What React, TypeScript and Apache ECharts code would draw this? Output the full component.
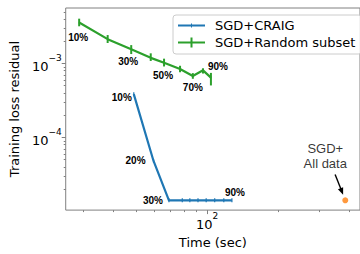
import React, { useEffect, useRef } from "react";
import * as echarts from "echarts";

// ---- data ----
const craigTime = [48.9, 59.3, 68.9, 78.5, 84.5, 91.5, 99.1, 107.7, 117.7, 127.4];
const craigLoss = [3.84e-4, 4.8e-5, 1.41e-5, 1.41e-5, 1.41e-5, 1.41e-5, 1.41e-5, 1.41e-5, 1.41e-5, 1.41e-5];
const craigLabels = ["10%", "20%", "30%", "", "", "", "", "", "", "90%"];

const randomTime = [28.7, 37.9, 47.7, 57.7, 65.7, 76.8, 87.0, 96.1, 103.8];
const randomLoss = [3.58e-3, 2.13e-3, 1.55e-3, 1.19e-3, 1.02e-3, 8.4e-4, 6.76e-4, 8.07e-4, 6.43e-4];
const randomLow = [3.18e-3, 1.89e-3, 1.34e-3, 1.08e-3, 9.1e-4, 7.6e-4, 6.2e-4, 7.3e-4, 5.04e-4];
const randomHigh = [4.03e-3, 2.42e-3, 1.77e-3, 1.37e-3, 1.16e-3, 9.3e-4, 7.4e-4, 8.6e-4, 7.45e-4];
const randomLabels = ["10%", "", "30%", "", "50%", "", "70%", "", "90%"];

const allTime = [385];
const allLoss = [1.41e-5];
const allLabel = "SGD+\nAll data";
const arrowFrom = [348.7, 3.15e-5];
const arrowTo = [377, 1.68e-5];

const xMajorTicks = [100];
const xMinorTicks = [30, 40, 50, 60, 70, 80, 90, 200, 300, 400];
const yMajorTicks = [1e-4, 1e-3];
const yMinorTicks = [
  2e-5, 3e-5, 4e-5, 5e-5, 6e-5, 7e-5, 8e-5, 9e-5,
  2e-4, 3e-4, 4e-4, 5e-4, 6e-4, 7e-4, 8e-4, 9e-4,
  2e-3, 3e-3, 4e-3, 5e-3,
];
const xRange = [25.17, 444.5];
const yRange = [1.039e-5, 5.62e-3];

const xTitle = "Time (sec)";
const yTitle = "Training loss residual";
const seriesNames = ["SGD+CRAIG", "SGD+Random subset"];

// ---- layout constants ----
const craigLabelOffsets = [[-12, 3], [-18, 0], [-16, 0.5], [0, 0], [0, 0], [0, 0], [0, 0], [0, 0], [0, 0], [3, -8]];
const randomLabelOffsets = [[-1, 15], [0, 0], [-3, 12.5], [0, 0], [-1, 13], [0, 0], [0, 11.5], [0, 0], [7, -11]];

const BLUE = "#1f77b4";
const GREEN = "#2ca02c";
const ORANGE = "#ff7f0e";
const SPINE = "#808080";
const DEJAVU = "DejaVu Sans";
const ARIAL = "Liberation Sans";

const supFormatter = (v: number) => {
  const e = Math.round(Math.log10(v));
  const s = e < 0 ? "\u2212" + -e : String(e);
  return `{b|10}{s|${s}}`;
};
const richLabel = {
  b: { fontSize: 13, fontFamily: DEJAVU, color: "#000", lineHeight: 20, verticalAlign: "bottom" },
  s: { fontSize: 9, fontFamily: DEJAVU, color: "#000", lineHeight: 10, verticalAlign: "top" },
};

const pctLabel = (text: string, off: number[]) =>
  text
    ? {
        show: true,
        position: "inside",
        formatter: text,
        offset: off,
        fontFamily: ARIAL,
        fontWeight: "bold",
        fontSize: 10,
        color: "#000",
        align: "center",
        verticalAlign: "middle",
      }
    : { show: false };

export default function App() {
  const ref = useRef<HTMLDivElement>(null);
  useEffect(() => {
    if (!ref.current) return;
    const chart = echarts.init(ref.current, null, { renderer: "svg" });
    const baseX = {
      type: "log",
      min: xRange[0],
      max: xRange[1],
      position: "bottom",
      splitLine: { show: false },
      axisLine: { show: false },
    };
    const baseY = {
      type: "log",
      min: yRange[0],
      max: yRange[1],
      position: "left",
      splitLine: { show: false },
      axisLine: { show: false },
    };
    chart.setOption({
      animation: false,
      grid: {
        left: 62,
        top: 8,
        width: 308,
        height: 214,
        show: true,
        borderColor: SPINE,
        borderWidth: 1,
        backgroundColor: "transparent",
      },
      legend: {
        orient: "vertical",
        left: 173,
        top: 15,
        padding: [4, 6, 5, 5],
        itemWidth: 27,
        itemHeight: 10,
        itemGap: 4,
        borderColor: "#cccccc",
        borderWidth: 1,
        borderRadius: 3,
        backgroundColor: "rgba(255,255,255,0.8)",
        textStyle: { fontFamily: DEJAVU, fontSize: 13, color: "#000", padding: [0, 0, 0, 5] },
        data: [
          { name: seriesNames[0], icon: "path://M0,0h0.01v0.01h-0.01z M0,4.1h27v1.8h-27z M13,3h1v4h-1z M26.99,9.99h0.01v0.01h-0.01z" },
          { name: seriesNames[1], icon: "path://M0,4h27v2h-27z M12.5,0h2v10h-2z" },
        ],
      },
      xAxis: [
        {
          ...baseX,
          name: xTitle,
          nameLocation: "middle",
          nameGap: 21,
          nameTextStyle: { fontFamily: DEJAVU, fontSize: 13, color: "#000", verticalAlign: "top" },
          axisTick: { show: true, length: 4, customValues: xMajorTicks, lineStyle: { color: SPINE, width: 1 } },
          axisLabel: { show: true, customValues: xMajorTicks, formatter: supFormatter, rich: richLabel, margin: 1 },
        },
        {
          ...baseX,
          axisTick: { show: true, length: 2, customValues: xMinorTicks, lineStyle: { color: SPINE, width: 1 } },
          axisLabel: { show: false },
        },
      ],
      yAxis: [
        {
          ...baseY,
          name: yTitle,
          nameLocation: "middle",
          nameGap: 40,
          nameTextStyle: { fontFamily: DEJAVU, fontSize: 13, color: "#000" },
          axisTick: { show: true, length: 4, customValues: yMajorTicks, lineStyle: { color: SPINE, width: 1 } },
          axisLabel: { show: true, customValues: yMajorTicks, formatter: supFormatter, rich: richLabel, margin: 4 },
        },
        {
          ...baseY,
          axisTick: { show: true, length: 2, customValues: yMinorTicks, lineStyle: { color: SPINE, width: 1 } },
          axisLabel: { show: false },
        },
      ],
      series: [
        {
          name: seriesNames[0],
          type: "line",
          xAxisIndex: 0,
          yAxisIndex: 0,
          color: BLUE,
          lineStyle: { color: BLUE, width: 2.2 },
          symbol: "rect",
          symbolSize: [1.2, 4],
          showSymbol: true,
          itemStyle: { color: BLUE },
          emphasis: { disabled: true },
          z: 3,
          data: craigTime.map((t, i) => ({
            value: [t, craigLoss[i]],
            label: pctLabel(craigLabels[i], craigLabelOffsets[i]),
          })),
        },
        {
          name: seriesNames[1],
          type: "line",
          xAxisIndex: 0,
          yAxisIndex: 0,
          color: GREEN,
          lineStyle: { color: GREEN, width: 2.2 },
          symbol: "circle",
          symbolSize: 1,
          itemStyle: { color: GREEN },
          emphasis: { disabled: true },
          z: 3,
          data: randomTime.map((t, i) => ({
            value: [t, randomLoss[i]],
            label: pctLabel(randomLabels[i], randomLabelOffsets[i]),
          })),
        },
        {
          name: seriesNames[1] + " error",
          type: "custom",
          xAxisIndex: 0,
          yAxisIndex: 0,
          z: 3,
          silent: true,
          data: randomTime.map((t, i) => [t, randomLow[i], randomHigh[i]]),
          encode: { x: 0, y: [1, 2] },
          renderItem: (params: any, api: any) => {
            const p1 = api.coord([api.value(0), api.value(1)]);
            const p2 = api.coord([api.value(0), api.value(2)]);
            return {
              type: "line",
              shape: { x1: p1[0], y1: p1[1], x2: p2[0], y2: p2[1] },
              style: { stroke: GREEN, lineWidth: 2 },
            };
          },
        },
        {
          name: "SGD+All data",
          type: "scatter",
          xAxisIndex: 0,
          yAxisIndex: 0,
          symbol: "circle",
          symbolSize: 6,
          itemStyle: { color: ORANGE },
          emphasis: { disabled: true },
          z: 4,
          label: {
            show: true,
            position: "inside",
            formatter: allLabel,
            offset: [-20, -44],
            fontFamily: ARIAL,
            fontSize: 13,
            lineHeight: 15,
            color: "#000",
            align: "center",
            verticalAlign: "middle",
          },
          data: allTime.map((t, i) => [t, allLoss[i]]),
        },
      ],
    });

    // annotation arrow, placed through the chart's own scales
    const a = chart.convertToPixel({ xAxisIndex: 0, yAxisIndex: 0 }, arrowFrom) as number[];
    const b = chart.convertToPixel({ xAxisIndex: 0, yAxisIndex: 0 }, arrowTo) as number[];
    if (a && b) {
      const dx = b[0] - a[0];
      const dy = b[1] - a[1];
      const len = Math.sqrt(dx * dx + dy * dy) || 1;
      const ux = dx / len;
      const uy = dy / len;
      const headLen = 7;
      const headHalf = 2.8;
      const bx = b[0] - ux * headLen;
      const by = b[1] - uy * headLen;
      chart.setOption({
        graphic: [
          {
            type: "line",
            silent: true,
            z: 10,
            shape: { x1: a[0], y1: a[1], x2: bx + ux, y2: by + uy },
            style: { stroke: "#000", lineWidth: 1.4 },
          },
          {
            type: "polygon",
            silent: true,
            z: 10,
            shape: {
              points: [
                [b[0], b[1]],
                [bx - uy * headHalf, by + ux * headHalf],
                [bx + uy * headHalf, by - ux * headHalf],
              ],
            },
            style: { fill: "#000" },
          },
        ],
      });
    }
    return () => chart.dispose();
  }, []);
  return (
    <div
      ref={ref}
      style={{ position: "absolute", left: 0, top: 0, width: 360, height: 254, overflow: "hidden" }}
    />
  );
}
